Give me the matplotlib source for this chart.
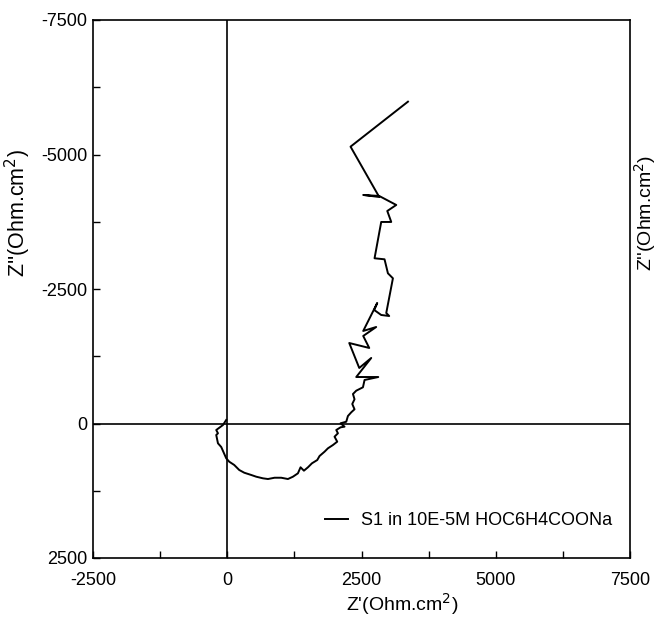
import matplotlib
matplotlib.use("Agg")
import matplotlib.pyplot as plt
from matplotlib.ticker import MultipleLocator

plt.rcParams['font.family'] = ['Liberation Sans', 'DejaVu Sans']
plt.rcParams['axes.unicode_minus'] = False

# Nyquist data (Z' real, Z'' imaginary), Ohm.cm^2
z_real = [-20, -80, -205, -173, -205, -173, -112, -19, 37, 130, 223, 317, 447, 540,
          665, 758, 881, 1005, 1130, 1223, 1316, 1365, 1428, 1503, 1577, 1676, 1719,
          1812, 1875, 1968, 2048, 1998, 2061, 2030, 2110, 2184, 2110, 2216, 2247, 2309,
          2370, 2328, 2370, 2341, 2402, 2527, 2557, 2812, 2402, 2681, 2458, 2272, 2644,
          2532, 2774, 2532, 2793, 2737, 2867, 3016, 2961, 3085, 2992, 2929, 2743, 2867,
          3054, 2980, 3147, 2830, 2532, 2830, 2296, 3365]
z_imag = [-65, 28, 121, 182, 214, 368, 437, 647, 710, 771, 864, 915, 957, 989,
          1019, 1032, 1008, 1008, 1032, 989, 926, 814, 877, 814, 740, 679, 604,
          524, 461, 400, 338, 245, 182, 121, 71, 59, -4, -33, -139, -208,
          -264, -363, -450, -548, -610, -673, -809, -864, -864, -1218, -1032, -1496, -1404,
          -1627, -1794, -1720, -2240, -2110, -2017, -1998, -2054, -2699, -2792, -3052, -3071, -3746,
          -3746, -3950, -4062, -4229, -4248, -4210, -5146, -5982]
legend_label = "S1 in 10E-5M HOC6H4COONa"

fig = plt.figure(figsize=(6.59, 6.23), dpi=100)
ax = fig.add_axes([93/659, 65/623, 537/659, 538/623])

ax.plot(z_real, z_imag, color='black', lw=1.4, label=legend_label)
ax.axhline(0, color='black', lw=1.2)
ax.axvline(0, color='black', lw=1.2)

ax.set_xlim(-2500, 7500)
ax.set_ylim(2500, -7500)
ax.xaxis.set_major_locator(MultipleLocator(2500))
ax.yaxis.set_major_locator(MultipleLocator(2500))
ax.xaxis.set_minor_locator(MultipleLocator(1250))
ax.yaxis.set_minor_locator(MultipleLocator(1250))
ax.tick_params(which='both', direction='in', length=5, width=1, labelsize=13,
               top=False, right=False)
ax.tick_params(axis='x', pad=10)
ax.tick_params(axis='y', pad=4)
for s in ax.spines.values():
    s.set_linewidth(1.2)

fig.text(402/659, 1 - 604/623, "Z'(Ohm.cm$^2$)", fontsize=14,
         ha='center', va='center')
fig.text(18/659, 1 - 213/623, "Z''(Ohm.cm$^2$)", rotation=90, fontsize=15.5,
         ha='center', va='center')
fig.text(645/659, 1 - 213/623, "Z''(Ohm.cm$^2$)", rotation=90, fontsize=14,
         ha='center', va='center')

leg = ax.legend(loc='center right', bbox_to_anchor=(0.966, 0.07), frameon=False,
                fontsize=13, handlelength=1.3, borderpad=0, borderaxespad=0,
                handletextpad=0.7)

fig.savefig("out.png", dpi=100)
